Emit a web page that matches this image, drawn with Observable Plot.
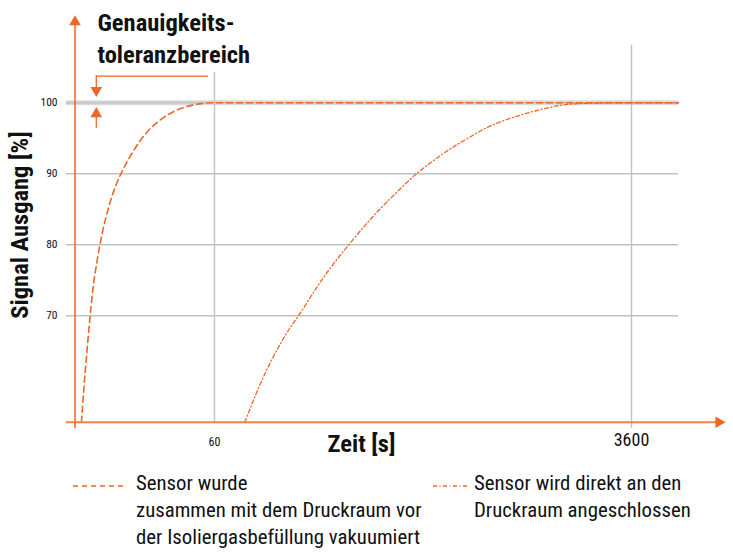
<!DOCTYPE html>
<html>
<head>
<meta charset="utf-8">
<script src="https://cdn.jsdelivr.net/npm/d3@7"></script>
<script src="https://cdn.jsdelivr.net/npm/@observablehq/plot@0.6"></script>
<style>
  html, body { margin: 0; padding: 0; background: #fff; }
  #wrap { position: relative; width: 733px; height: 560px; font-family: "Roboto Condensed", "Open Sans", sans-serif; }
  #chart { position: absolute; left: 0; top: 0; }
  .leg { position: absolute; font-size: 20.8px; line-height: 27px; color: #111; white-space: nowrap; }
  .sample { position: absolute; }
</style>
</head>
<body>
<div id="wrap">
  <div id="chart"></div>
  <svg class="sample" style="left:73px;top:481px" width="54" height="10"><line x1="0" y1="5" x2="52" y2="5" stroke="#ec6625" stroke-width="1.5" stroke-dasharray="5,4"/></svg>
  <div class="leg" style="left:136px;top:470px">Sensor wurde<br>zusammen mit dem Druckraum vor<br>der Isoliergasbefüllung vakuumiert</div>
  <svg class="sample" style="left:433px;top:481px" width="36" height="10"><line x1="0" y1="5" x2="34" y2="5" stroke="#ec6625" stroke-width="1.3" stroke-dasharray="4,2.5,1,2.5"/></svg>
  <div class="leg" style="left:474px;top:470px">Sensor wird direkt an den<br>Druckraum angeschlossen</div>
</div>
<script>
// ---- data ----
const xTicks = [60, 3600];
const xTickSizes = [12, 18];
const yTicks = [70, 80, 90, 100];
const toleranceLevel = [100];

// Sensor wurde zusammen mit dem Druckraum vor der Isoliergasbefüllung vakuumiert
const curve1Time   = [16.25, 16.62, 17.07, 17.63, 18.16, 18.96, 19.92, 21.25, 22.69, 24.62, 27.16, 30.97, 35.3, 41.6, 48.95, 57.7, 5710];
const curve1Signal = [55, 59.5, 64.2, 69.4, 73.6, 77.8, 81.6, 85.35, 88.2, 90.8, 93.3, 95.9, 97.6, 99.0, 99.7, 100, 100];

// Sensor wird direkt an den Druckraum angeschlossen
const curve2Time   = [80.8, 86.9, 94.2, 103.9, 114.7, 126.5, 137.2, 154.0, 169.8, 193.5, 224.2, 259.8, 296.4, 348.9, 431.7, 516.8, 608.6, 740.8, 901.6, 1211, 1473, 1792, 2182, 5710];
const curve2Signal = [55, 57.7, 60.5, 63.5, 66.1, 68.45, 70.0, 72.65, 74.8, 77.4, 80.0, 82.55, 84.65, 87.0, 90.0, 91.9, 93.6, 95.2, 96.9, 98.3, 99.07, 99.7, 100, 100];

// axis / annotation geometry in data units
const xAxisStart = 14.0, xAxisEnd = 8484, gridEnd = 5710;
const yAxisX = 15.25, yAxisBottom = 54.1, yAxisTop = 111.4, xAxisY = 55;
const grid60Top = 104.3, grid3600Top = 108.1;
const tolX = 18.8, tolX2 = 56.6, tolTop = 103.76, tolDownHead = 101.75, tolUpHead = 98.45, tolUpEnd = 96.4;

const orange = "#ec6625";
const orangeLight = "#f08447";
const gridColor = "#c2c2c2";
const font = "'Roboto Condensed', 'Open Sans', sans-serif";

const c1 = curve1Time.map((t, i) => ({t, s: curve1Signal[i]}));
const c2 = curve2Time.map((t, i) => ({t, s: curve2Signal[i]}));
const xt = xTicks.map((v, i) => ({v, size: xTickSizes[i]}));

const chart = Plot.plot({
  width: 733,
  height: 462,
  marginLeft: 66,
  marginRight: 8,
  marginTop: 15,
  marginBottom: 40,
  x: {type: "log", domain: [60, 3600], range: [214, 631], axis: null},
  y: {domain: [55, 112.3], range: [421.7, 15], axis: null},
  style: {fontFamily: font, color: "#111", background: "#fff"},
  marks: [
    // tolerance band
    Plot.ruleY(toleranceLevel, {x1: xAxisStart, x2: gridEnd, stroke: "#dadada", strokeWidth: 5}),
    // grid
    Plot.ruleY(yTicks, {x1: xAxisStart, x2: gridEnd, stroke: gridColor, strokeWidth: 1.4}),
    Plot.ruleX([xTicks[0]], {y1: xAxisY, y2: grid60Top, stroke: gridColor, strokeWidth: 1.4}),
    Plot.ruleX([xTicks[1]], {y1: yAxisBottom, y2: grid3600Top, stroke: gridColor, strokeWidth: 1.4}),
    // curves
    Plot.line(c1, {x: "t", y: "s", stroke: orange, strokeWidth: 1.6, strokeDasharray: "6,4", curve: "monotone-x"}),
    Plot.line(c2, {x: "t", y: "s", stroke: orange, strokeWidth: 1.3, strokeDasharray: "4,2.5,1,2.5", curve: "basis"}),
    // axes lines with arrowheads
    Plot.ruleY([xAxisY], {x1: xAxisStart, x2: xAxisEnd, stroke: orangeLight, strokeWidth: 2}),
    Plot.dot([xAxisEnd], {x: d => d, y: xAxisY, symbol: "triangle", r: 4.3, fill: orange, stroke: "none", rotate: 90}),
    Plot.ruleX([yAxisX], {y1: yAxisBottom, y2: yAxisTop, stroke: orange, strokeWidth: 1.5}),
    Plot.dot([yAxisTop], {x: yAxisX, y: d => d, symbol: "triangle", r: 4.3, fill: orange, stroke: "none"}),
    // tolerance annotation
    Plot.ruleY([tolTop], {x1: tolX, x2: tolX2, stroke: orange, strokeWidth: 1.3}),
    Plot.ruleX([tolX], {y1: tolTop, y2: tolDownHead, stroke: orange, strokeWidth: 1.3}),
    Plot.dot([tolDownHead], {x: tolX, y: d => d, symbol: "triangle", r: 4.3, fill: orange, stroke: "none", rotate: 180}),
    Plot.ruleX([tolX], {y1: tolUpHead, y2: tolUpEnd, stroke: orange, strokeWidth: 1.3}),
    Plot.dot([tolUpHead], {x: tolX, y: d => d, symbol: "triangle", r: 4.3, fill: orange, stroke: "none"}),
    Plot.text(["Genauigkeits-\ntoleranzbereich"], {frameAnchor: "top-left", dx: 31, dy: -8, text: d => d, textAnchor: "start", lineAnchor: "top", lineHeight: 1.33, fontSize: 24.5, fontWeight: "bold", fill: "#111"}),
    // axes
    Plot.axisY(yTicks, {tickSize: 0, tickPadding: 9, fontSize: 11.5, label: null, tickFormat: d3.format("d")}),
    Plot.text(xt.slice(0, 1), {x: "v", frameAnchor: "bottom", dy: 19.5, lineAnchor: "middle", textAnchor: "middle", text: d => d3.format("d")(d.v), fontSize: xTickSizes[0], fill: "#111"}),
    Plot.text(xt.slice(1, 2), {x: "v", frameAnchor: "bottom", dy: 17.5, lineAnchor: "middle", textAnchor: "middle", text: d => d3.format("d")(d.v), fontSize: xTickSizes[1], fill: "#111"}),
    // axis titles
    Plot.text(["Zeit [s]"], {frameAnchor: "bottom", dx: 361 - 395.5, dy: 22, text: d => d, textAnchor: "middle", lineAnchor: "middle", fontSize: 24.5, fontWeight: "bold", fill: "#111"}),
    Plot.text(["Signal Ausgang [%]"], {frameAnchor: "left", dx: -46, dy: 6, rotate: -90, text: d => d, textAnchor: "middle", lineAnchor: "middle", fontSize: 24.5, fontWeight: "bold", fill: "#111"})
  ]
});
document.getElementById("chart").appendChild(chart);
</script>
</body>
</html>
